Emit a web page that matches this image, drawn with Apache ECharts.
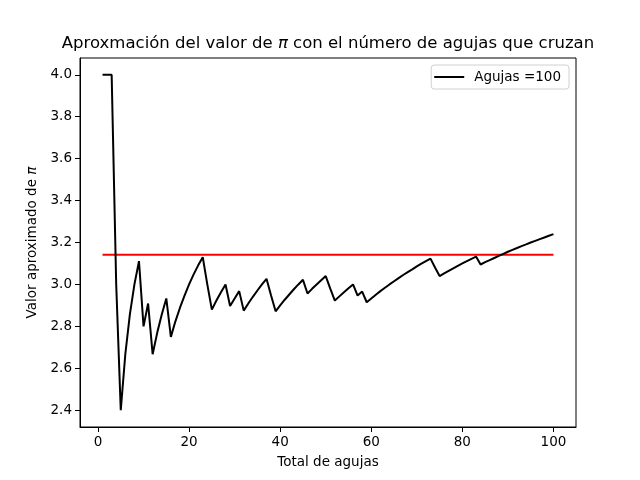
<!DOCTYPE html>
<html>
<head>
<meta charset="utf-8">
<script src="https://cdn.jsdelivr.net/npm/echarts@6/dist/echarts.min.js"></script>
<style>
  html, body { margin: 0; padding: 0; background: #fff; }
  #chart-container { width: 640px; height: 480px; }
</style>
</head>
<body>
<div id="chart-container"></div>
<script>
// número de agujas lanzadas
const agujas = [];
for (let i = 1; i <= 100; i++) agujas.push(i);

// valor aproximado de pi
const piAprox = [
  4.000, 4.000, 4.000, 3.000, 2.400, 2.667, 2.857, 3.000, 3.111, 2.800,
  2.909, 2.667, 2.769, 2.857, 2.933, 2.750, 2.824, 2.889, 2.947, 3.000,
  3.048, 3.091, 3.130, 3.000, 2.880, 2.923, 2.963, 3.000, 2.897, 2.933,
  2.968, 2.875, 2.909, 2.941, 2.971, 3.000, 3.027, 2.947, 2.872, 2.900,
  2.927, 2.952, 2.977, 3.000, 3.022, 2.957, 2.979, 3.000, 3.020, 3.040,
  2.980, 2.923, 2.943, 2.963, 2.982, 3.000, 2.947, 2.966, 2.915, 2.933,
  2.951, 2.968, 2.984, 3.000, 3.015, 3.030, 3.045, 3.059, 3.072, 3.086,
  3.099, 3.111, 3.123, 3.081, 3.040, 3.053, 3.065, 3.077, 3.089, 3.100,
  3.111, 3.122, 3.133, 3.095, 3.106, 3.116, 3.126, 3.136, 3.146, 3.156,
  3.165, 3.174, 3.183, 3.191, 3.200, 3.208, 3.216, 3.224, 3.232, 3.240
];

// línea de referencia (valor real de pi)
const lineaPi = [[1, 3.14159], [100, 3.14159]];

const xTicks = [0, 20, 40, 60, 80, 100];
const yTicks = [2.4, 2.6, 2.8, 3.0, 3.2, 3.4, 3.6, 3.8, 4.0];

function renderChart() {
  const dom = document.getElementById('chart-container');
  const myChart = echarts.init(dom, null, { renderer: 'canvas' });
  const font = 'DejaVu Sans';

  const serieAgujas = agujas.map((n, i) => [n, piAprox[i]]);

  const option = {
    backgroundColor: '#fff',
    animation: false,
    title: {
      text: 'Aproxmación del valor de {i|π} con el número de agujas que cruzan',
      left: 328,
      textAlign: 'center',
      top: 35,
      padding: 0,
      textStyle: {
        fontFamily: font,
        fontSize: 16.5,
        fontWeight: 'normal',
        color: '#000',
        rich: {
          i: { fontFamily: font, fontSize: 16.5, fontStyle: 'italic', color: '#000' }
        }
      }
    },
    legend: {
      data: [{ name: 'Agujas =100', icon: 'rect' }],
      right: 71,
      top: 65,
      orient: 'vertical',
      padding: [5, 8, 5, 3],
      itemWidth: 30,
      itemHeight: 2,
      borderColor: '#d0d0d0',
      borderWidth: 1,
      borderRadius: 3,
      textStyle: { fontFamily: font, fontSize: 13.5, color: '#000', padding: [0, 0, 0, 5] }
    },
    grid: {
      left: 80,
      top: 58,
      right: 64,
      bottom: 53,
      show: true,
      borderColor: '#000',
      borderWidth: 1
    },
    xAxis: {
      type: 'value',
      min: -3.95,
      max: 104.95,
      name: 'Total de agujas',
      nameLocation: 'middle',
      nameGap: 28,
      nameTextStyle: { fontFamily: font, fontSize: 13.5, color: '#000' },
      axisLine: { onZero: false, lineStyle: { color: '#000', width: 1 } },
      axisTick: { show: true, length: 5, customValues: xTicks, lineStyle: { color: '#000' } },
      axisLabel: {
        customValues: xTicks,
        fontFamily: font, fontSize: 13.5, color: '#000', margin: 8
      },
      splitLine: { show: false }
    },
    yAxis: {
      type: 'value',
      min: 2.32,
      max: 4.08,
      name: 'Valor aproximado de {i|π}',
      nameLocation: 'middle',
      nameGap: 41,
      nameTextStyle: {
        fontFamily: font, fontSize: 13.5, color: '#000',
        rich: { i: { fontFamily: font, fontSize: 13.5, fontStyle: 'italic', color: '#000' } }
      },
      axisLine: { show: true, onZero: false, lineStyle: { color: '#000', width: 1 } },
      axisTick: { show: true, length: 5, customValues: yTicks, lineStyle: { color: '#000' } },
      axisLabel: {
        customValues: yTicks,
        fontFamily: font, fontSize: 13.5, color: '#000', margin: 8,
        formatter: v => v.toFixed(1)
      },
      splitLine: { show: false }
    },
    series: [
      {
        name: 'Agujas =100',
        type: 'line',
        data: serieAgujas,
        symbol: 'none',
        lineStyle: { color: '#000', width: 2 },
        itemStyle: { color: '#000' },
        z: 3
      },
      {
        name: 'pi',
        type: 'line',
        data: lineaPi,
        symbol: 'none',
        lineStyle: { color: '#ff0000', width: 2 },
        itemStyle: { color: '#ff0000' },
        z: 2
      }
    ]
  };

  myChart.setOption(option);
}
renderChart();
</script>
</body>
</html>
